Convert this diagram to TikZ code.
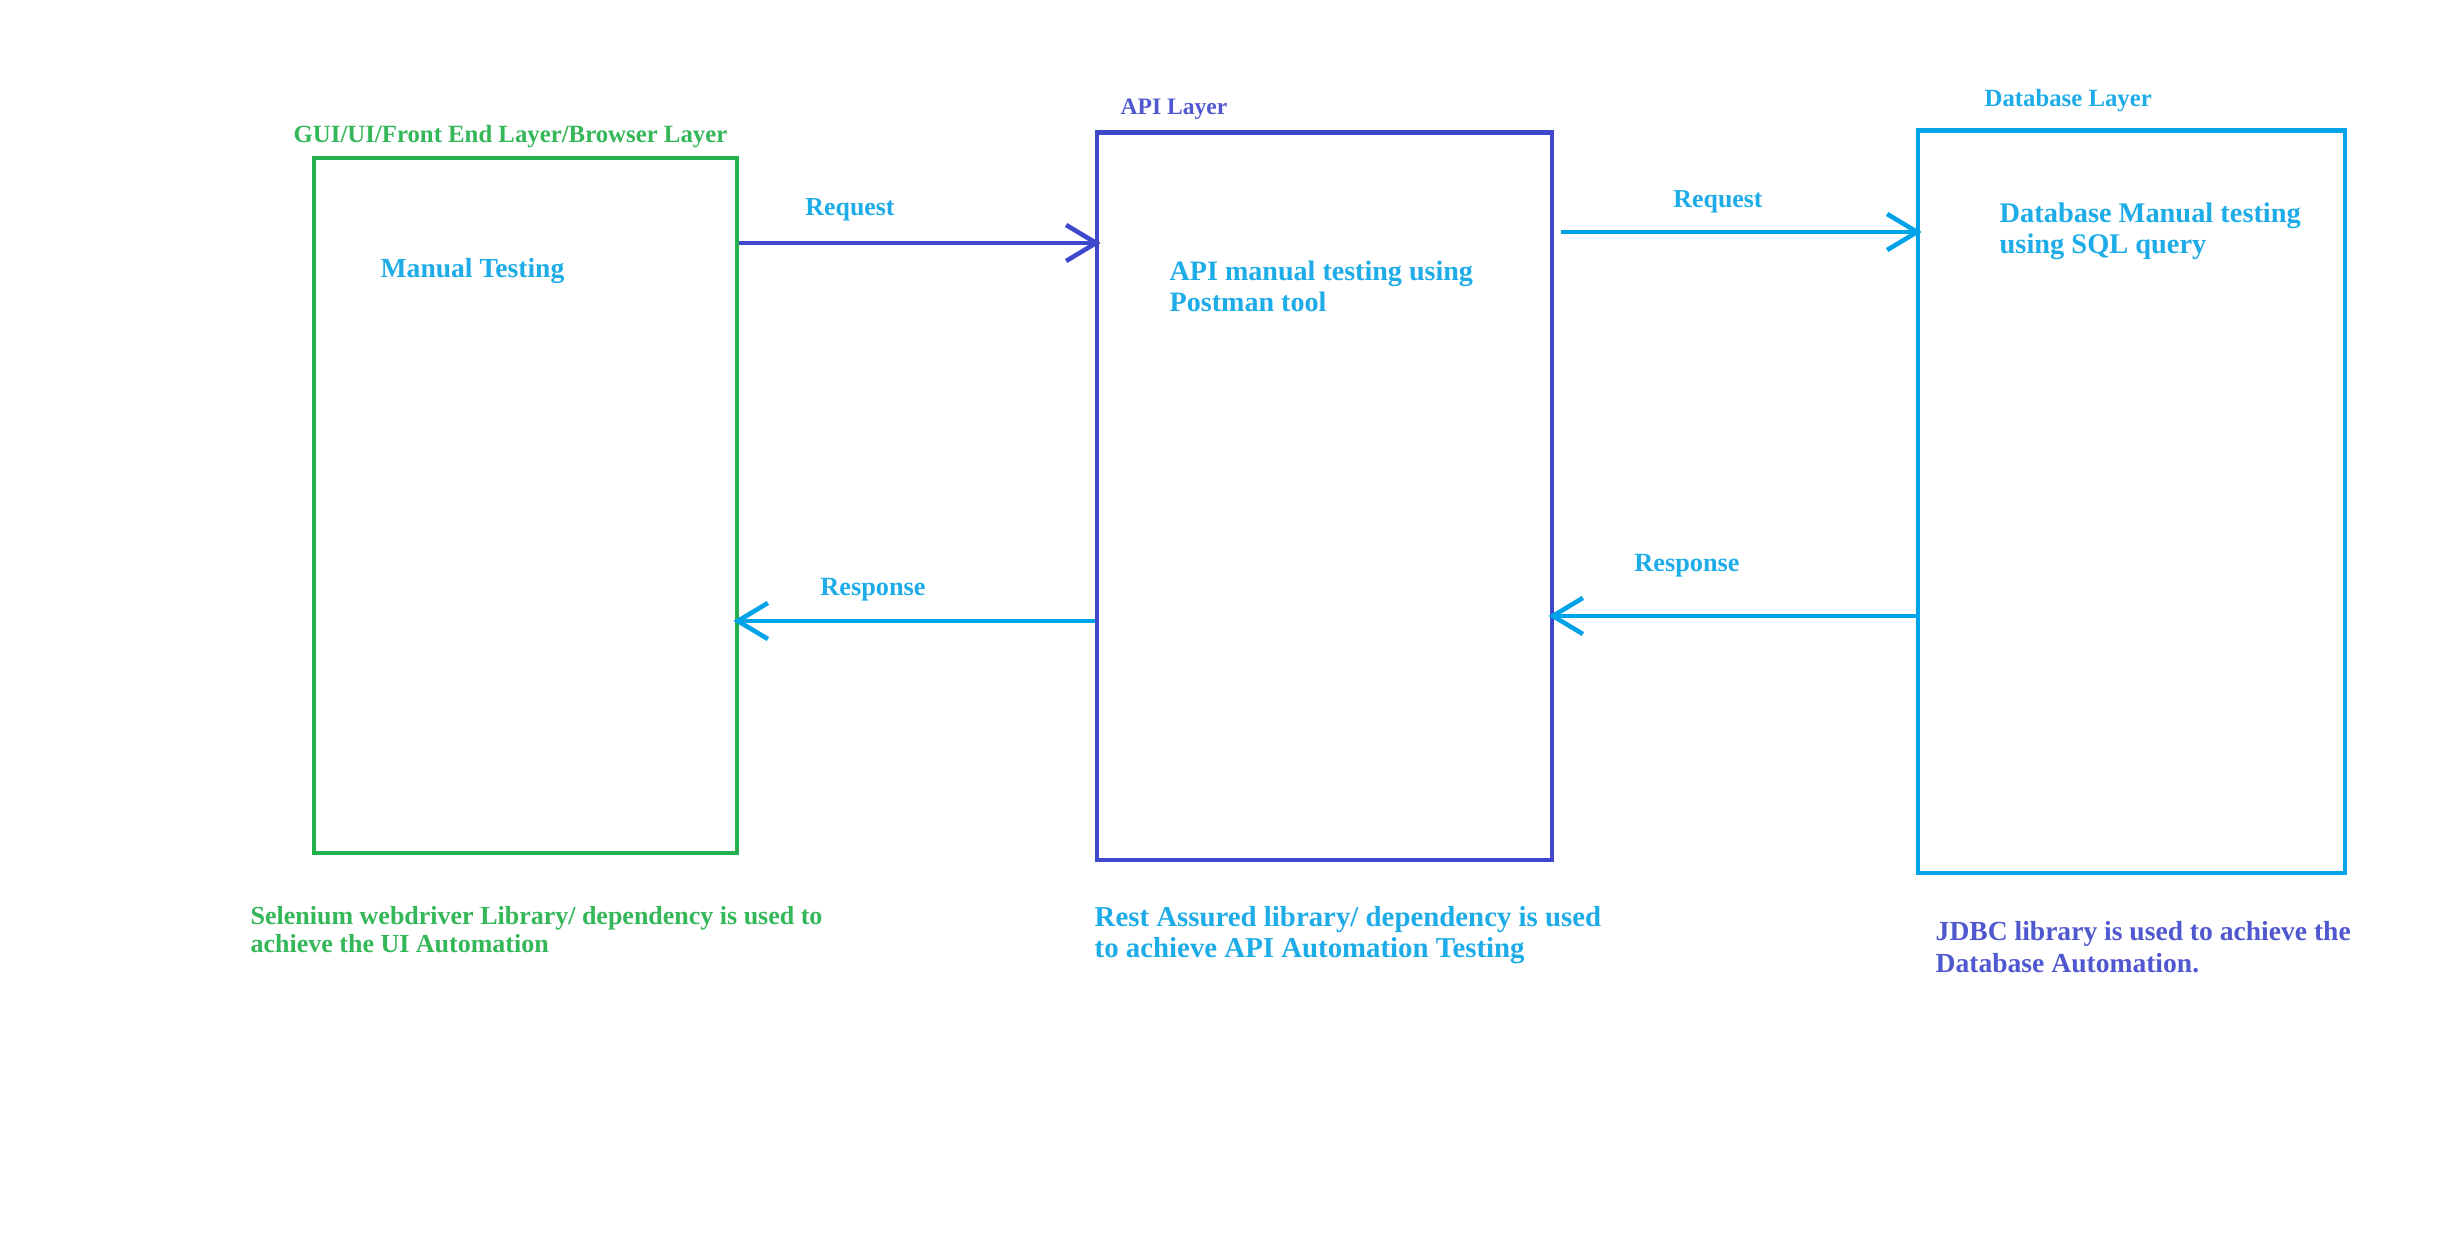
\documentclass[tikz,border=0pt]{standalone}
\usepackage{fontspec}
\setmainfont{Liberation Serif}
\usetikzlibrary{arrows.meta}

\definecolor{guigreen}{RGB}{34,177,76}
\definecolor{apiblue}{RGB}{63,72,204}
\definecolor{dbblue}{RGB}{0,162,232}
\definecolor{greentext}{RGB}{52,183,88}
\definecolor{bluetext}{RGB}{29,172,232}
\definecolor{purpletext}{RGB}{80,88,208}

\tikzset{
  layerbox/.style={draw, line width=1.3pt, inner sep=0pt},
  flow/.style={line width=1.3pt, shorten >=-0.06cm, -{Straight Barb[length=0.3cm, width=0.36cm]}},
  txt/.style={inner sep=0pt, anchor=west, align=left, font=\bfseries\fontsize{#1}{8.8}\selectfont},
  txt/.default=8
}

\begin{document}
\begin{tikzpicture}[x=0.01cm, y=-0.01cm]
  \fill[white] (0,0) rectangle (2453,1237);

  % layer boxes
  \node[layerbox, draw=guigreen, minimum width=4.23cm, minimum height=6.95cm] (gui) at (525.5,505.5) {};
  \node[layerbox, draw=apiblue, minimum width=4.55cm, minimum height=7.27cm] (api) at (1324.5,496.5) {};
  \node[layerbox, draw=dbblue, minimum width=4.27cm, minimum height=7.42cm] (db) at (2131.5,502) {};

  % layer titles
  \node[txt=7.05, text=greentext] (guititle) at (293,137) {GUI/UI/Front End Layer/Browser Layer};
  \node[txt=6.7, text=purpletext] (apititle) at (1120,109) {API Layer};
  \node[txt=7.04, text=bluetext] (dbtitle) at (1984,101) {Database Layer};

  % manual testing
  \node[txt=7.84, text=bluetext] (guiman) at (380,271) {Manual Testing};
  \node[txt=7.98, text=bluetext] (apiman) at (1169,286) {API manual testing using\\Postman tool};
  \node[txt=8.07, text=bluetext] (dbman) at (1999,231) {Database Manual testing\\using SQL query};

  % automation
  \node[txt=7.39, text=greentext, font=\bfseries\fontsize{7.39}{8}\selectfont] (guiauto) at (250,930) {Selenium webdriver Library/ dependency is used to\\achieve the UI Automation};
  \node[txt=8.2, text=bluetext] (apiauto) at (1094,935) {Rest Assured library/ dependency is used\\to achieve API Automation Testing};
  \node[txt=7.84, text=purpletext, font=\bfseries\fontsize{7.84}{9.1}\selectfont] (dbauto) at (1935,947) {JDBC library is used to achieve the\\Database Automation.};

  % request / response
  \coordinate (req1) at (737,243);
  \coordinate (req2) at (1561,232);
  \coordinate (resp1) at (1918,616);
  \coordinate (resp2) at (1097,621);

  \draw[flow, apiblue] (gui.east |- req1) -- (api.west |- req1);
  \node[txt=7.35, text=bluetext, anchor=center] (reqlbl1) at (850,210) {Request};

  \draw[flow, dbblue] (req2) -- (db.west |- req2);
  \node[txt=7.35, text=bluetext, anchor=center] (reqlbl2) at (1718,202) {Request};

  \draw[flow, dbblue] (db.west |- resp1) -- (api.east |- resp1);
  \node[txt=7.47, text=bluetext, anchor=center] (resplbl1) at (1687,566) {Response};

  \draw[flow, dbblue] (api.west |- resp2) -- (gui.east |- resp2);
  \node[txt=7.47, text=bluetext, anchor=center] (resplbl2) at (873,590) {Response};
\end{tikzpicture}
\end{document}
